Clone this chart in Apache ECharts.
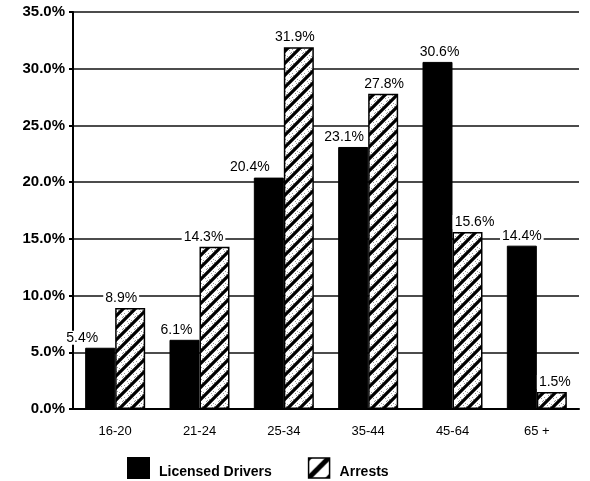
<!DOCTYPE html>
<html>
<head>
<meta charset="utf-8">
<script src="https://cdn.jsdelivr.net/npm/echarts@6/dist/echarts.min.js"></script>
<style>
  html, body { margin: 0; padding: 0; background: #ffffff; }
  #chart { width: 590px; height: 481px; }
</style>
</head>
<body>
<div id="chart"></div>
<script>
// Datos del gráfico
const categories = ['16-20', '21-24', '25-34', '35-44', '45-64', '65 +'];
const licensedDrivers = [5.4, 6.1, 20.4, 23.1, 30.6, 14.4];
const arrests = [8.9, 14.3, 31.9, 27.8, 15.6, 1.5];
const yTicks = [0, 5, 10, 15, 20, 25, 30, 35];

const FONT = '"Liberation Sans", Arial, sans-serif';

// Desplazamiento horizontal de cada etiqueta (como en el original)
const driverLabelShift = [-18, -8, -19, -9, 2, 0];
const arrestLabelShift = [-9, -11, -4, 1, 7, 3];

// Patrón rayado para la serie de arrestos
function makeHatch(size, width, stipple) {
    const c = document.createElement('canvas');
    c.width = size;
    c.height = size;
    const ctx = c.getContext('2d');
    ctx.fillStyle = '#ffffff';
    ctx.fillRect(0, 0, size, size);
    if (stipple) {
        ctx.fillStyle = '#9a9a9a';
        const dots = [[1, 2], [4, 1], [2, 5], [7, 9], [9, 7], [10, 10], [5, 3], [8, 11], [11, 8], [3, 4]];
        dots.forEach(([x, y]) => ctx.fillRect(x, y, 1, 1));
    }
    ctx.strokeStyle = '#000000';
    ctx.lineWidth = width;
    ctx.beginPath();
    ctx.moveTo(-2, size + 2); ctx.lineTo(size + 2, -2);
    ctx.moveTo(-size - 2, size + 2); ctx.lineTo(2, -2);
    ctx.moveTo(-2, 2 * size + 2); ctx.lineTo(2 * size + 2, -2);
    ctx.stroke();
    return c;
}

const hatch = { image: makeHatch(12, 3.2, true), repeat: 'repeat' };
const legendHatch = { image: makeHatch(20, 5, false), repeat: 'repeat' };

const valueLabel = {
    show: true,
    position: 'top',
    distance: 3,
    color: '#000000',
    fontFamily: FONT,
    fontSize: 14,
    backgroundColor: '#ffffff',
    padding: [0, 2],
    formatter: p => p.value.toFixed(1) + '%'
};

function withShift(values, shifts) {
    return values.map((v, i) => ({ value: v, label: { offset: [shifts[i], 0] } }));
}

const chart = echarts.init(document.getElementById('chart'), null, { renderer: 'canvas' });
chart.setOption({
    backgroundColor: '#ffffff',
    animation: false,
    grid: { left: 73, right: 11, top: 12, bottom: 72 },
    legend: {
        left: 127,
        top: 457,
        padding: 0,
        itemWidth: 21,
        itemHeight: 20,
        itemGap: 36,
        icon: 'rect',
        formatter: name => '{t|' + name + '}',
        textStyle: {
            rich: {
                t: {
                    fontFamily: FONT, fontSize: 14, fontWeight: 'bold', color: '#000000',
                    padding: [9, 0, 0, 5]
                }
            }
        },
        data: [
            { name: 'Licensed Drivers' },
            { name: 'Arrests', itemStyle: { color: legendHatch, borderColor: '#000000', borderWidth: 1.5 } }
        ]
    },
    xAxis: {
        type: 'category',
        data: categories,
        axisLine: { lineStyle: { color: '#000000', width: 2 } },
        axisTick: { alignWithLabel: true, length: 7, lineStyle: { color: '#000000', width: 2 } },
        axisLabel: { fontFamily: FONT, fontSize: 13, color: '#000000', margin: 16 }
    },
    yAxis: {
        type: 'value',
        min: yTicks[0],
        max: yTicks[yTicks.length - 1],
        interval: 5,
        axisLine: { show: true, lineStyle: { color: '#000000', width: 2 } },
        axisTick: { show: true, length: 4, lineStyle: { color: '#000000', width: 2 } },
        splitLine: { lineStyle: { color: '#111111', width: 1.5 } },
        axisLabel: {
            fontFamily: FONT,
            fontSize: 15,
            fontWeight: 'bold',
            color: '#000000',
            margin: 8,
            formatter: v => v.toFixed(1) + '%'
        }
    },
    series: [
        {
            name: 'Licensed Drivers',
            type: 'bar',
            data: withShift(licensedDrivers, driverLabelShift),
            barWidth: 30,
            barGap: '0%',
            itemStyle: { color: '#000000', borderColor: '#000000', borderWidth: 1 },
            label: valueLabel
        },
        {
            name: 'Arrests',
            type: 'bar',
            data: withShift(arrests, arrestLabelShift),
            barWidth: 30,
            itemStyle: { color: hatch, borderColor: '#000000', borderWidth: 1.5 },
            label: valueLabel
        }
    ]
});
</script>
</body>
</html>
